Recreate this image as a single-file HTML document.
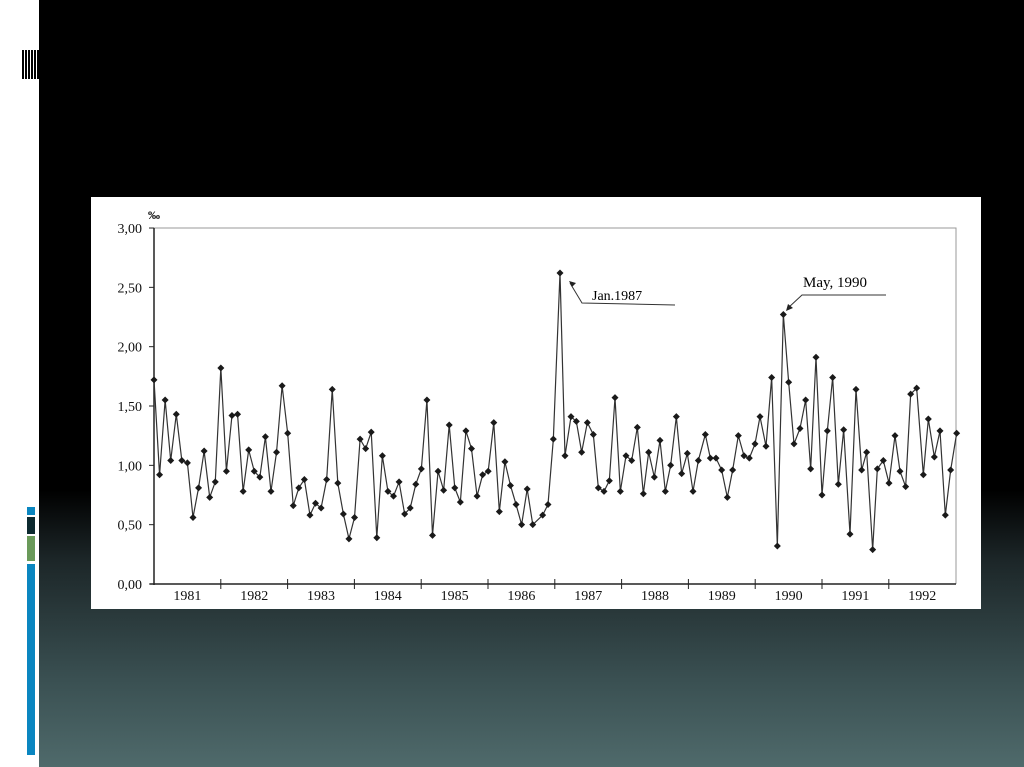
<!DOCTYPE html>
<html><head><meta charset="utf-8"><style>
body{margin:0;width:1024px;height:767px;overflow:hidden;background:#fff;position:relative;font-family:"Liberation Serif",serif}
#bg{position:absolute;left:39px;top:0;width:985px;height:767px;background:linear-gradient(#000 0,#000 490px,#1c2628 560px,#3a5052 680px,#4f6a6b 767px)}
</style></head><body>
<div id="bg"></div>
<div style="position:absolute;left:22px;top:50px;width:17px;height:29px;background:repeating-linear-gradient(90deg,#000 0 2px,#fff 2px 3px)"></div>
<div style="position:absolute;left:27px;top:507px;width:8px;height:8px;background:#0a86c0"></div>
<div style="position:absolute;left:27px;top:517px;width:8px;height:17px;background:#0d2a30"></div>
<div style="position:absolute;left:27px;top:536px;width:8px;height:25px;background:#6a9a5a"></div>
<div style="position:absolute;left:27px;top:564px;width:8px;height:191px;background:#0a86c0"></div>
<svg style="position:absolute;left:0;top:0" width="1024" height="767" font-family="Liberation Serif,serif">
<rect x="91" y="197" width="890" height="412" fill="#fff"/>
<g id="c"></g>
</svg>
<script>
const L=[1.72,0.92,1.55,1.04,1.43,1.04,1.02,0.56,0.81,1.12,0.73,0.86,1.82,0.95,1.42,1.43,0.78,1.13,0.95,0.90,1.24,0.78,1.11,1.67,1.27,0.66,0.81,0.88,0.58,0.68,0.64,0.88,1.64,0.85,0.59,0.38,0.56,1.22,1.14,1.28,0.39,1.08,0.78,0.74,0.86,0.59,0.64,0.84,0.97,1.55,0.41,0.95,0.79,1.34,0.81,0.69,1.29,1.14,0.74,0.92,0.95,1.36,0.61,1.03,0.83,0.67,0.50,0.80,0.50];
const R=[[8,.58],[24,.67],[40,1.22],[60,2.62],[75,1.08],[93,1.41],[109,1.37],[125,1.11],[142,1.36],[160,1.26],[175,.81],[192,.78],[208,.87],[225,1.57],[241,.78],[258,1.08],[275,1.04],[292,1.32],[310,.76],[326,1.11],[343,.90],[360,1.21],[376,.78],[392,1.0],[409,1.41],[425,.93],[442,1.10],[459,.78],[475,1.04],[496,1.26],[511,1.06],[528,1.06],[545,.96],[562,.73],[578,.96],[595,1.25],[612,1.08],[628,1.06],[645,1.18],[660,1.41],[678,1.16],[695,1.74],[712,.32],[730,2.27],[746,1.70],[762,1.18],[780,1.31],[797,1.55],[812,.97],[828,1.91],[846,.75],[862,1.29],[878,1.74],[895,.84],[911,1.30],[930,.42],[948,1.64],[965,.96],[980,1.11],[998,.29],[1012,.97],[1030,1.04],[1047,.85],[1065,1.25],[1080,.95],[1097,.82],[1112,1.60],[1130,1.65],[1150,.92],[1165,1.39],[1183,1.07],[1200,1.29],[1216,.58],[1232,.96],[1250,1.27]];
const Y=v=>584-v*118.7;
let P=L.map((v,i)=>[154+i*5.57,Y(v)]).concat(R.map(([z,v])=>[540+z/3,Y(v)]));
let s='';
s+='<polyline points="154,228 956,228 956,584" fill="none" stroke="#999" stroke-width="1"/>';
s+='<line x1="154" y1="228" x2="154" y2="585" stroke="#222" stroke-width="1.5"/><line x1="150" y1="584" x2="956" y2="584" stroke="#222" stroke-width="1.5"/>';
['0,00','0,50','1,00','1,50','2,00','2,50','3,00'].forEach((t,i)=>{let y=584-i*59.33;s+=`<line x1="149" y1="${y}" x2="154" y2="${y}" stroke="#222"/><text x="142" y="${y+5}" font-size="14" text-anchor="end" fill="#111">${t}</text>`});
s+='<text x="148" y="219" font-size="12" font-weight="bold">‰</text>';
for(let k=1;k<12;k++){let x=154+k*66.8;s+=`<line x1="${x}" y1="579" x2="${x}" y2="589" stroke="#222"/>`}
for(let k=0;k<12;k++){let x=154+(k+.5)*66.8;s+=`<text x="${x}" y="600" font-size="14" text-anchor="middle" fill="#111">${1981+k}</text>`}
s+='<polyline points="'+P.map(p=>p.join(',')).join(' ')+'" fill="none" stroke="#333" stroke-width="1.2"/>';
P.forEach(([x,y])=>{s+=`<path d="M${x-3.5} ${y}L${x} ${y-3.5}L${x+3.5} ${y}L${x} ${y+3.5}Z" fill="#1a1a1a"/>`});
s+='<polyline points="570,283 582,303 675,305" fill="none" stroke="#333"/><path d="M569 281l7 2-4 4z" fill="#222"/><text x="592" y="300" font-size="14">Jan.1987</text>';
s+='<polyline points="788,308 802,295 886,295" fill="none" stroke="#333"/><path d="M786 311l2-7 5 4z" fill="#222"/><text x="803" y="287" font-size="15">May, 1990</text>';
document.getElementById('c').innerHTML=s;
</script>
</body></html>
